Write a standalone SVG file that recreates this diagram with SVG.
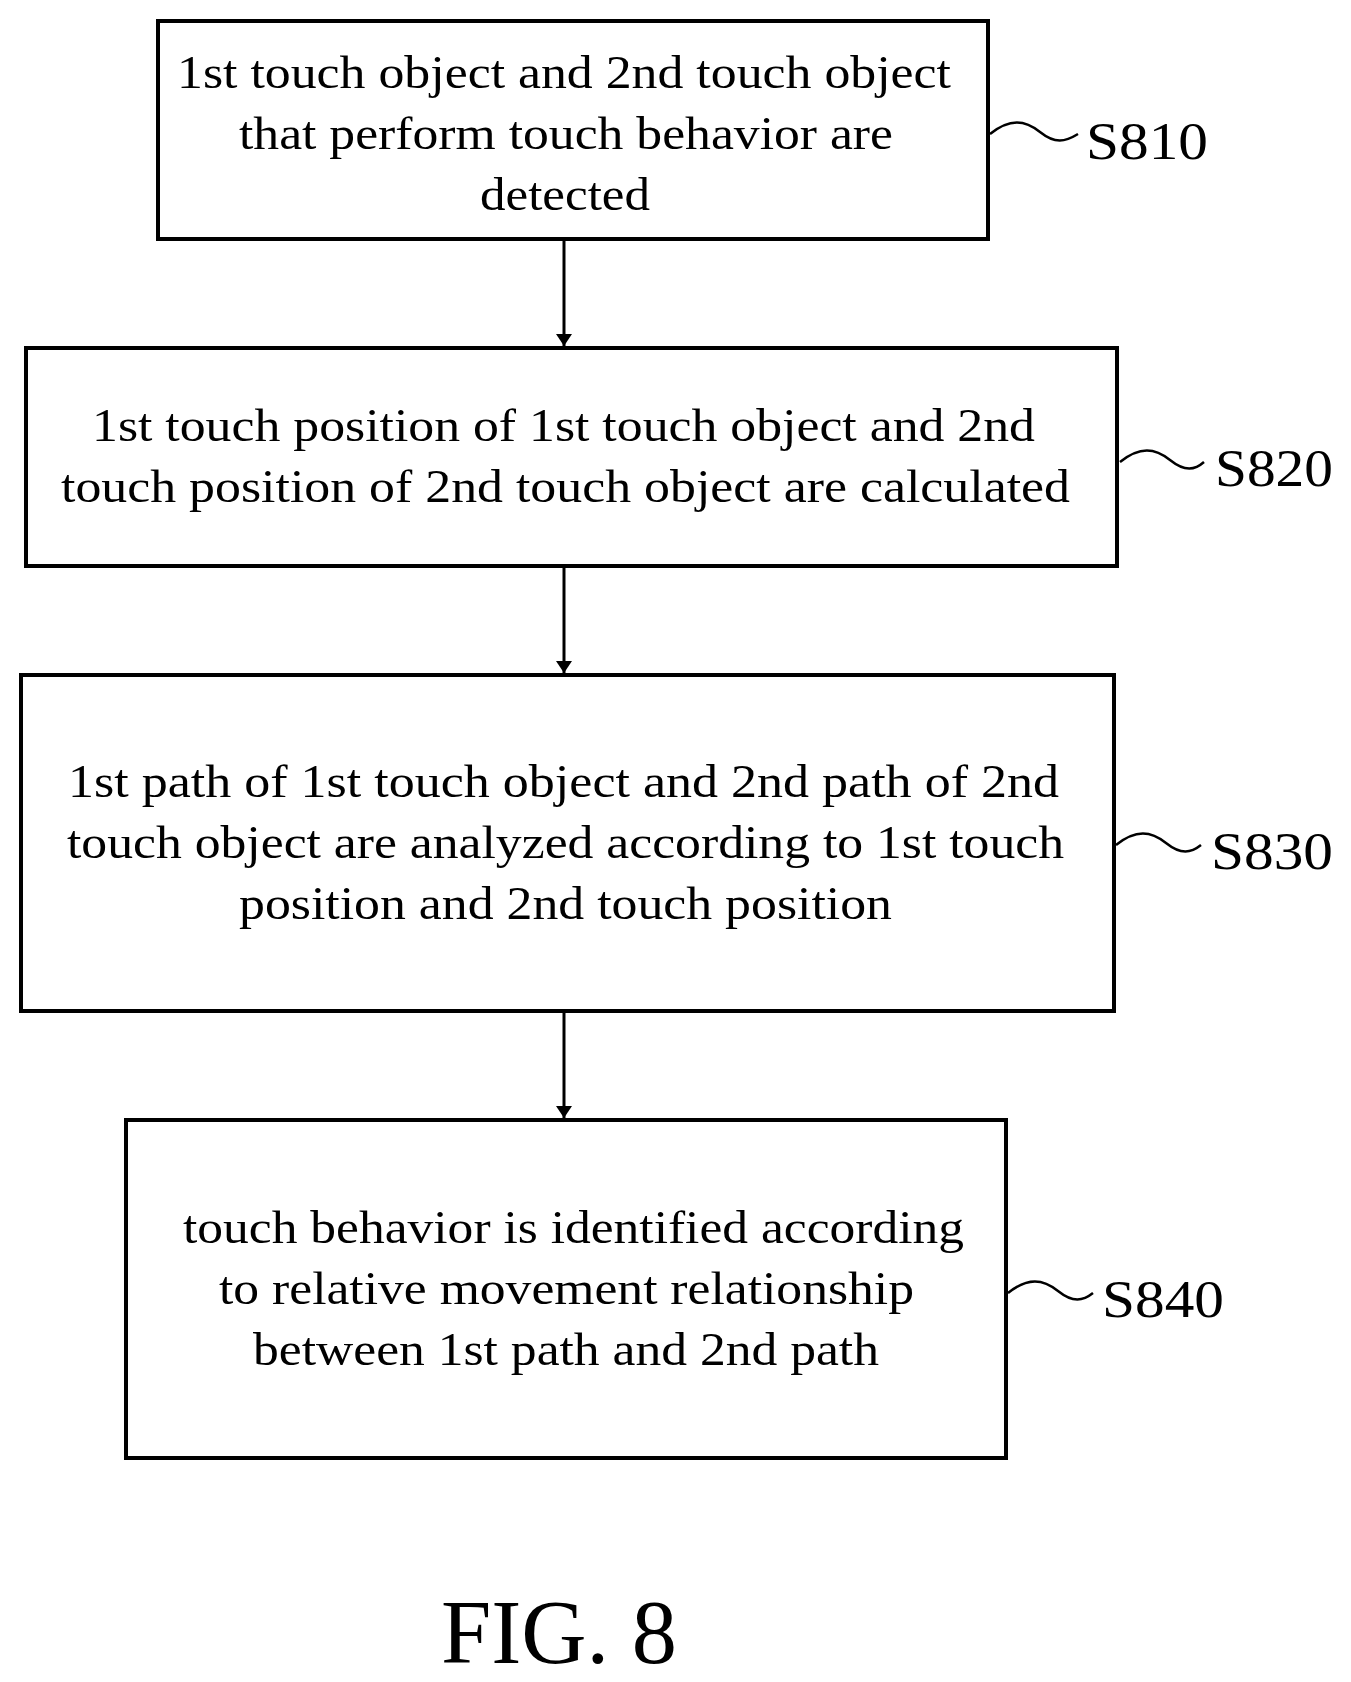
<svg xmlns="http://www.w3.org/2000/svg" width="1351" height="1682" viewBox="0 0 1351 1682">
<style>
.box{fill:#fff;stroke:#000;stroke-width:4}
.t{font-family:"Liberation Serif",serif;font-size:47px;fill:#000}
.lbl{font-family:"Liberation Serif",serif;font-size:52px;fill:#000}
.con{stroke:#000;stroke-width:3;fill:none}
.tl{stroke:#000;stroke-width:2.5;fill:none}
</style>
<defs><marker id="ah" markerWidth="12" markerHeight="20" refX="12" refY="10" orient="auto" markerUnits="userSpaceOnUse"><path d="M0,2 L12,10 L0,18 Z" fill="#000"/></marker></defs>
<rect width="1351" height="1682" fill="#fff"/>
<g id="connectors">
<line class="con" x1="564" y1="240" x2="564" y2="346" marker-end="url(#ah)"/>
<line class="con" x1="564" y1="567" x2="564" y2="673" marker-end="url(#ah)"/>
<line class="con" x1="564" y1="1012" x2="564" y2="1118" marker-end="url(#ah)"/>
</g>
<g id="S810">
<rect class="box" x="158" y="21" width="830" height="218"/>
<text class="t" x="177" y="88" textLength="774" lengthAdjust="spacingAndGlyphs">1st touch object and 2nd touch object</text>
<text class="t" x="239" y="149" textLength="654" lengthAdjust="spacingAndGlyphs">that perform touch behavior are</text>
<text class="t" x="480" y="210" textLength="170" lengthAdjust="spacingAndGlyphs">detected</text>
<path class="tl" d="M990,134 C1010,118 1025,120 1040,132 C1055,144 1065,142 1078,134"/>
<text class="lbl" x="1086" y="159" textLength="122" lengthAdjust="spacingAndGlyphs">S810</text>
</g>
<g id="S820">
<rect class="box" x="26" y="348" width="1091" height="218"/>
<text class="t" x="92" y="441" textLength="943" lengthAdjust="spacingAndGlyphs">1st touch position of 1st touch object and 2nd</text>
<text class="t" x="61" y="502" textLength="1009" lengthAdjust="spacingAndGlyphs">touch position of 2nd touch object are calculated</text>
<path class="tl" d="M1120,462 C1140,446 1155,448 1170,460 C1185,472 1195,470 1204,462"/>
<text class="lbl" x="1215" y="486" textLength="118" lengthAdjust="spacingAndGlyphs">S820</text>
</g>
<g id="S830">
<rect class="box" x="21" y="675" width="1093" height="336"/>
<text class="t" x="68" y="797" textLength="991" lengthAdjust="spacingAndGlyphs">1st path of 1st touch object and 2nd path of 2nd</text>
<text class="t" x="67" y="858" textLength="997" lengthAdjust="spacingAndGlyphs">touch object are analyzed according to 1st touch</text>
<text class="t" x="239" y="919" textLength="653" lengthAdjust="spacingAndGlyphs">position and 2nd touch position</text>
<path class="tl" d="M1116,845 C1136,829 1151,831 1166,843 C1181,855 1191,853 1201,845"/>
<text class="lbl" x="1211" y="869" textLength="122" lengthAdjust="spacingAndGlyphs">S830</text>
</g>
<g id="S840">
<rect class="box" x="126" y="1120" width="880" height="338"/>
<text class="t" x="183" y="1243" textLength="781" lengthAdjust="spacingAndGlyphs">touch behavior is identified according</text>
<text class="t" x="219" y="1304" textLength="695" lengthAdjust="spacingAndGlyphs">to relative movement relationship</text>
<text class="t" x="253" y="1365" textLength="626" lengthAdjust="spacingAndGlyphs">between 1st path and 2nd path</text>
<path class="tl" d="M1008,1293 C1028,1277 1043,1279 1058,1291 C1073,1303 1083,1301 1093,1293"/>
<text class="lbl" x="1102" y="1317" textLength="122" lengthAdjust="spacingAndGlyphs">S840</text>
</g>
<text x="441" y="1663" font-family="Liberation Serif,serif" font-size="92" textLength="236" lengthAdjust="spacingAndGlyphs">FIG. 8</text>
</svg>
